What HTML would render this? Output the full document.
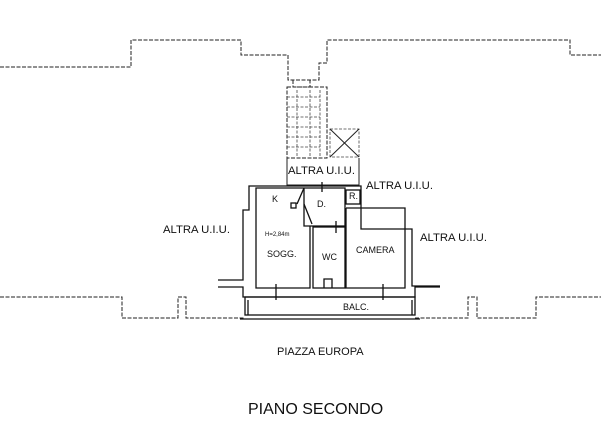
<!DOCTYPE html>
<html><head><meta charset="utf-8"><style>
html,body{margin:0;padding:0;background:#fff;}
svg{display:block;}
text{font-family:"Liberation Sans",sans-serif;fill:#111;}
</style></head><body>
<svg width="601" height="432" viewBox="0 0 601 432" xmlns="http://www.w3.org/2000/svg">
<g fill="none" stroke="#222" stroke-width="1" stroke-dasharray="4,1.5">
<polyline points="0,67 131,67 131,40 241,40 241,55 288,55 288,80 319,80 319,63 327,63 327,40 570,40 570,55 601,55"/>
<polyline points="0,297 122,297 122,318 178,318 178,297 186,297 186,318 245,318"/>
<polyline points="415,318 468,318 468,297 477,297 477,318 536,318 536,297 601,297"/>
<polyline points="293,80 293,87 310,87 310,80"/>
<rect x="287" y="87" width="40" height="71"/>
</g>
<g fill="none" stroke="#444" stroke-width="0.8" stroke-dasharray="3,1.5">
<line x1="287" y1="97" x2="320" y2="97"/><line x1="287" y1="107" x2="320" y2="107"/>
<line x1="287" y1="117" x2="320" y2="117"/><line x1="287" y1="127" x2="320" y2="127"/>
<line x1="287" y1="137" x2="320" y2="137"/><line x1="287" y1="147" x2="320" y2="147"/>
<line x1="297" y1="90" x2="297" y2="156"/><line x1="310" y1="90" x2="310" y2="156"/>
<line x1="320" y1="90" x2="320" y2="156"/>
<rect x="330" y="129" width="29" height="28"/>
</g>
<g fill="none" stroke="#222" stroke-width="1">
<line x1="330" y1="129" x2="359" y2="157"/><line x1="359" y1="129" x2="330" y2="157"/>
<polyline points="287,158 287,185 359,185 359,158"/>
</g>
<g fill="none" stroke="#111" stroke-width="1.3">
<polyline points="218,280 243,280 243,210 249,210 249,186 361,186 361,229 412,229 412,286 440,286"/>
<polyline points="218,287 243,287 243,297 415,297 415,287 440,287"/>
<polyline points="256,188 304,188 304,226 345,226 345,188 256,188 256,288 310,288 310,226"/>
<rect x="313" y="227" width="32" height="61"/>
<polyline points="346,208 405,208 405,288 346,288 346,208"/>
<rect x="346" y="190" width="14" height="14"/>
<line x1="304" y1="188" x2="297" y2="204"/><line x1="304" y1="204" x2="312" y2="224"/>
<rect x="291" y="203" width="5" height="5"/>
<rect x="245" y="297" width="170" height="18"/><line x1="248" y1="300" x2="248" y2="315"/><line x1="412" y1="300" x2="412" y2="315"/>
<line x1="240" y1="319" x2="420" y2="319"/>
<polyline points="324,288 324,279 332,279 332,288"/>
<line x1="276" y1="284" x2="276" y2="300"/><line x1="383" y1="284" x2="383" y2="300"/>
<line x1="322" y1="182" x2="322" y2="192"/><line x1="336" y1="221" x2="336" y2="233"/>
</g>
<text x="163" y="233" font-size="11.3">ALTRA U.I.U.</text>
<text x="288" y="174" font-size="11.3">ALTRA U.I.U.</text>
<text x="366" y="189" font-size="11.3">ALTRA U.I.U.</text>
<text x="420" y="241" font-size="11.3">ALTRA U.I.U.</text>
<text x="272" y="202" font-size="9">K</text>
<text x="317" y="207" font-size="9">D.</text>
<text x="349" y="199" font-size="9">R.</text>
<text x="265" y="236" font-size="6">H=2,84m</text>
<text x="267" y="257" font-size="9">SOGG.</text>
<text x="322" y="260" font-size="9">WC</text>
<text x="356" y="253" font-size="9">CAMERA</text>
<text x="343" y="310" font-size="9">BALC.</text>
<text x="277" y="355" font-size="11">PIAZZA EUROPA</text>
<text x="248" y="414" font-size="16">PIANO SECONDO</text>
</svg>
</body></html>
